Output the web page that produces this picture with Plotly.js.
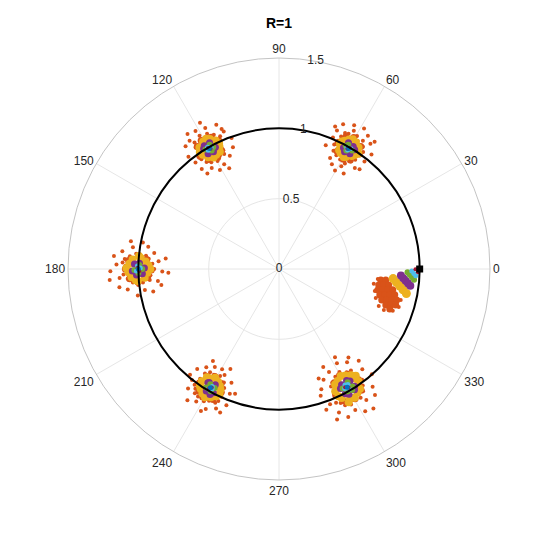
<!DOCTYPE html>
<html>
<head>
<meta charset="utf-8">
<script src="https://cdn.plot.ly/plotly-3.0.1.min.js"></script>
<style>
  html, body { margin: 0; padding: 0; background: #fff; }
  #polar-plot { width: 541px; height: 555px; }
</style>
</head>
<body>
<div id="polar-plot"></div>
<script>
// tick values
var angleTicks = [0, 30, 60, 90, 120, 150, 180, 210, 240, 270, 300, 330];
var radialTicks = [0, 0.5, 1, 1.5];
var ringR = [1];

// start point (black square)
var startR = [1];
var startTheta = [0];

// clusters at 60, 120, 180, 240, 300 deg (+ loose dots round the fan), one array pair per colour
var orangeR = [
  1.068, 1.082, .919, .891, 1.004, .947, 1.054, .905, 1.096, 1.025, .969, 1.075, .884, 1.040, .926, 1.089,
  1.118, 1.139, .855, .869, 1.011, .976, 1.103, .898, 1.068, 1.153, .834, 1.047, .820, 1.125, .940, 1.167, .912, 1.089, .806, 1.132,
  1.075, .912, 1.061, .898, .983, 1.018, 1.089, .933, 1.047, .884, 1.082, .955, 1.033, .905, 1.103, .919,
  1.132, 1.111, .862, .841, .962, 1.054, 1.146, .877, 1.075, .898, 1.025, .820, 1.118, 1.160, .926, .848, 1.181, .990, 1.096, .799,
  1.092, .915, 1.078, .901, 1.021, .972, 1.064, .929, 1.106, .887, 1.043, .950, 1.099, .922, 1.007, 1.113,
  1.135, .858, 1.156, .865, 1.050, .965, 1.121, .894, 1.085, .830, 1.177, .943, 1.142, .844, 1.021, .986, 1.199, .809, 1.071, .908, 1.206, .787,
  1.060, .883, 1.039, .897, .961, .996, 1.074, .911, 1.053, .869, 1.018, .932, 1.081, .883, 1.032, 1.067,
  1.110, .847, 1.088, .833, 1.003, .954, 1.124, .869, 1.067, .876, 1.138, .819, 1.039, .918, 1.152, .805, 1.103, .982, .791, .940,
  1.069, .878, 1.055, .864, .991, .935, 1.048, .892, 1.083, .849, 1.020, .913, 1.076, .885, .984, 1.091, .871, 1.034,
  1.119, .814, 1.140, .821, 1.027, .927, 1.105, .849, 1.069, .786, 1.161, .906, 1.126, .800, .998, .949, 1.183, .764, 1.055, .864, 1.197, .743, 1.147, .828,
  .682, .718, .756, .800, .862, .893, .893, .699, .706
];
var orangeTheta = [
  58.4, 62.8, 56.3, 60.8, 65.3, 55.1, 55.5, 63.2, 59.6, 54.3, 66.1, 64.1, 58.0, 64.9, 65.3, 56.8,
  61.6, 56.3, 58.8, 65.3, 67.7, 51.5, 53.9, 53.1, 67.3, 62.4, 63.2, 51.1, 55.9, 66.1, 69.3, 58.8, 51.1, 68.5, 60.4, 53.1,
  121.2, 117.2, 115.9, 122.4, 125.7, 114.7, 118.0, 115.1, 124.5, 119.6, 123.7, 125.3, 113.9, 115.5, 120.8, 124.1,
  117.6, 124.9, 123.7, 117.6, 128.1, 111.9, 121.2, 113.5, 112.3, 127.7, 128.9, 120.8, 113.5, 124.1, 110.7, 126.9, 118.4, 109.9, 127.3, 116.3,
  178.8, 182.8, 183.7, 177.6, 173.9, 185.7, 175.1, 175.5, 182.0, 180.0, 185.3, 174.3, 176.3, 184.9, 186.5, 177.6,
  183.2, 176.3, 178.4, 185.7, 171.5, 188.9, 173.5, 172.7, 187.7, 181.2, 175.5, 170.3, 186.5, 187.7, 190.6, 169.0, 180.8, 174.7, 169.4, 190.1, 183.7, 182.0,
  242.0, 238.4, 235.1, 244.1, 234.3, 245.7, 237.6, 234.7, 244.5, 241.2, 233.9, 245.3, 240.4, 236.3, 245.3, 235.9,
  238.0, 242.8, 245.7, 236.8, 231.9, 248.5, 242.4, 233.5, 232.7, 247.3, 235.1, 240.4, 248.9, 230.7, 241.2, 234.3, 247.7, 229.9, 244.1, 250.6,
  298.4, 303.2, 304.5, 297.6, 293.5, 306.1, 294.7, 295.1, 302.4, 300.4, 305.7, 293.9, 295.9, 305.3, 306.9, 298.0, 299.2, 293.1,
  303.7, 295.9, 298.4, 306.1, 290.7, 309.7, 292.7, 291.9, 308.5, 301.6, 295.1, 289.4, 307.3, 308.1, 311.4, 288.2, 301.2, 294.3, 288.6, 311.0, 304.1, 302.4, 291.1, 289.9,
  -8.9, -16.7, -20.3, -21.3, -20.2, -17.6, -14.3, -12.9, -5.8
];

// dense orange ring just outside the yellow of each cluster
var orangeHaloR = [
  1.075, 1.054, .990, .933, .905, .926, .997, 1.047,
  1.068, 1.047, .976, .926, .905, .940, 1.004, 1.054,
  1.092, 1.064, 1.007, .936, .908, .943, 1.000, 1.071,
  1.060, 1.039, .968, .911, .890, .918, .989, 1.039,
  1.069, 1.041, .970, .899, .871, .899, .977, 1.041
];
var orangeHaloTheta = [
  60.4, 63.2, 64.9, 63.7, 59.6, 56.8, 55.1, 56.3,
  121.2, 123.7, 124.9, 122.8, 118.8, 115.9, 115.1, 117.2,
  180.0, 183.7, 185.3, 183.7, 180.4, 175.9, 174.7, 176.8,
  239.2, 243.2, 244.9, 243.2, 239.2, 236.3, 235.1, 236.8,
  300.4, 304.1, 305.7, 303.7, 299.6, 295.9, 294.3, 295.9
];

var yellowR = [
  1.047, 1.054, 1.011, .976, .933, .926, 1.033, .947, .990, 1.061, .919, 1.025, .955, .997,
  1.054, 1.047, .940, .926, 1.004, .969, 1.033, .947, 1.061, .919, 1.018, .976, .933, .990,
  1.071, 1.064, .936, .929, 1.021, .986, 1.043, .957, 1.050, .950, 1.007, 1.085, .915, 1.000,
  1.039, 1.032, .918, .911, 1.003, .954, .982, .968, 1.053, .897, 1.018, .932, 1.010, .925,
  1.048, 1.041, .899, .892, .998, .949, .977, .956, 1.062, .878, 1.020, .913, 1.027, .913, 1.069, .935
];
var yellowTheta = [
  61.6, 58.8, 63.7, 56.3, 62.0, 59.2, 56.8, 63.2, 64.1, 60.4, 60.0, 62.8, 57.2, 55.5,
  120.8, 118.0, 122.4, 118.8, 124.1, 115.9, 123.2, 117.2, 119.2, 120.4, 116.3, 123.7, 116.8, 115.5,
  181.2, 178.0, 181.6, 178.4, 184.5, 175.5, 176.3, 183.7, 183.2, 176.8, 184.9, 179.6, 180.0, 174.7,
  238.4, 242.0, 238.0, 241.6, 235.9, 244.1, 244.5, 235.5, 240.0, 239.6, 236.8, 243.2, 243.7, 236.3,
  298.8, 302.4, 297.6, 302.0, 295.1, 304.9, 305.3, 294.7, 300.4, 300.0, 295.9, 304.1, 304.1, 295.9, 297.6, 305.7
];

var purpleR = [
  1.025, .955, 1.004, .976, 1.018, .962,
  1.025, .955, 1.011, .976, .962, 1.025,
  1.043, .957, 1.014, .993, 1.028, .972,
  1.010, .940, .996, .954, 1.018, .947,
  1.020, .927, .991, .956, 1.005, .935, .942, 1.013
];
var purpleTheta = [
  61.2, 60.8, 57.6, 62.0, 58.8, 58.4,
  118.8, 119.2, 122.0, 117.6, 121.6, 121.2,
  180.8, 179.6, 182.4, 177.6, 178.0, 182.0,
  239.2, 241.2, 242.0, 238.0, 241.2, 238.4,
  299.2, 301.2, 302.8, 297.2, 298.0, 298.4, 302.4, 302.0
];

var greenR = [
  1.011, .969, .990, .997,
  1.011, .969, .997, .983,
  1.028, .972, 1.000, .993,
  .996, .954, .989, .961,
  .998, .942, .984, .963, 1.005
];
var greenTheta = [
  60.8, 60.4, 58.4, 61.6,
  119.2, 119.6, 121.6, 118.4,
  180.4, 180.0, 181.6, 178.4,
  240.8, 239.2, 238.4, 241.6,
  299.2, 301.2, 302.0, 298.0, 301.2
];

var cyanR = [
  .990, .997, .976,
  1.004, .983, .990,
  1.014, .986, 1.007,
  .989, .961, .975,
  .991, .956, .970, .949
];
var cyanTheta = [
  60.8, 59.2, 60.0,
  120.4, 120.8, 119.2,
  180.8, 179.6, 178.8,
  239.6, 240.4, 240.8,
  300.4, 300.8, 298.8, 299.6
];

var darkRedR = [.983, .997, .997, .983, 1.007, .993, .968, .982, .977, .963];
var darkRedTheta = [60.4, 59.6, 120.4, 119.6, 179.6, 180.8, 240.4, 239.6, 300.4, 299.2];

var blueR = [.990, .990, 1.000, .975, .970];
var blueTheta = [60, 120, 180, 240, 300];

// the fan that runs out from the start point near 0 deg
var fanOrangeR = [.728, .763, .718, .753, .788, .718, .752, .787, .822, .740, .774, .809, .843, .763, .797, .831, .865, .801, .834, .868, .837];
var fanOrangeTheta = [-6.2, -5.9, -9.1, -8.7, -8.3, -12.0, -11.4, -10.9, -10.4, -14.4, -13.8, -13.2, -12.6, -16.8, -16.0, -15.3, -14.7, -18.6, -17.8, -17.1, -19.8];
var fanYellowR = [.814, .840, .867, .894, .922];
var fanYellowTheta = [-4.8, -6.5, -8.0, -9.5, -10.9];
var fanPurpleR = [.868, .886, .904, .922, .941];
var fanPurpleTheta = [-3.0, -4.2, -5.3, -6.3, -7.3];
var fanGreenR = [.914, .930, .947, .963];
var fanGreenTheta = [-1.5, -2.5, -3.6, -4.5];
var fanCyanR = [.944, .959, .973];
var fanCyanTheta = [-0.9, -1.9, -2.8];
var fanDarkRedR = [.970, .988];
var fanDarkRedTheta = [-0.1, -1.3];

// radial tick labels sit centred on this bearing
var radialLabelAngle = 80;

function dots(r, theta, color, size) {
    return {
        type: 'scatterpolar',
        mode: 'markers',
        r: r,
        theta: theta,
        marker: {color: color, size: size, line: {width: 0}},
        hoverinfo: 'skip',
        subplot: 'polar'
    };
}

var plotData = [
    dots(fanOrangeR, fanOrangeTheta, '#D95319', 7),
    dots(orangeR, orangeTheta, '#D95319', 4),
    dots(orangeHaloR, orangeHaloTheta, '#D95319', 7),
    dots(yellowR, yellowTheta, '#EDB120', 8),
    dots(purpleR, purpleTheta, '#7E2F8E', 7),
    dots(greenR, greenTheta, '#77AC30', 6),
    dots(cyanR, cyanTheta, '#4DBEEE', 5),
    dots(darkRedR, darkRedTheta, '#A2142F', 4),
    dots(blueR, blueTheta, '#0072BD', 5),
    dots(fanYellowR, fanYellowTheta, '#EDB120', 9),
    dots(fanPurpleR, fanPurpleTheta, '#7E2F8E', 8),
    dots(fanGreenR, fanGreenTheta, '#77AC30', 6),
    dots(fanCyanR, fanCyanTheta, '#4DBEEE', 5),
    dots(fanDarkRedR, fanDarkRedTheta, '#A2142F', 4)
];

var font = {family: 'Liberation Sans, Arial, Helvetica, sans-serif', size: 12, color: '#262626'};

// overlay subplot: R=1 ring (its grid), start square and radial labels on top
plotData.push({
    type: 'scatterpolar',
    mode: 'markers',
    r: startR,
    theta: startTheta,
    marker: {color: '#000', size: 7, symbol: 'square'},
    hoverinfo: 'skip',
    subplot: 'polar2'
});
plotData.push({
    type: 'scatterpolar',
    mode: 'text',
    r: radialTicks,
    theta: radialTicks.map(function() { return radialLabelAngle; }),
    text: radialTicks.map(String),
    textposition: 'middle center',
    textfont: font,
    hoverinfo: 'skip',
    subplot: 'polar2'
});

var layout = {
    width: 541,
    height: 555,
    margin: {l: 68, r: 51, t: 58, b: 75},
    paper_bgcolor: '#fff',
    showlegend: false,
    hovermode: false,
    font: font,
    title: {
        text: '<b>R=1</b>',
        font: {family: font.family, size: 14, color: '#000'},
        x: 0.5, xref: 'paper',
        y: 1 - 23 / 555, yref: 'container', yanchor: 'middle'
    },
    polar: {
        domain: {x: [0, 1], y: [0, 1]},
        bgcolor: '#fff',
        angularaxis: {
            direction: 'counterclockwise',
            rotation: 0,
            tickvals: angleTicks,
            ticktext: angleTicks.map(String),
            ticks: '',
            showline: true,
            linecolor: '#c4c4c4',
            linewidth: 1,
            gridcolor: '#e6e6e6',
            tickfont: font
        },
        radialaxis: {
            range: [0, 1.5],
            angle: 90,
            tickvals: radialTicks,
            showticklabels: false,
            ticks: '',
            showline: false,
            gridcolor: '#e6e6e6'
        }
    },
    polar2: {
        domain: {x: [0, 1], y: [0, 1]},
        bgcolor: 'rgba(0,0,0,0)',
        angularaxis: {
            direction: 'counterclockwise',
            rotation: 0,
            showgrid: false,
            showline: false,
            showticklabels: false,
            ticks: ''
        },
        radialaxis: {
            range: [0, 1.5],
            tickvals: ringR,
            showticklabels: false,
            ticks: '',
            showline: false,
            gridcolor: '#000',
            gridwidth: 2
        }
    }
};

Plotly.newPlot('polar-plot', plotData, layout, {displayModeBar: false, staticPlot: true});
</script>
</body>
</html>
